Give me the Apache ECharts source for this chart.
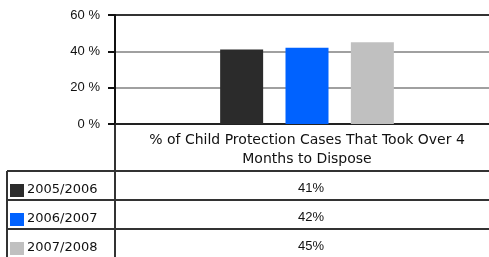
<!DOCTYPE html>
<html>
<head>
<meta charset="utf-8">
<script src="https://cdn.jsdelivr.net/npm/echarts@6/dist/echarts.min.js"></script>
<style>
  html, body { margin: 0; padding: 0; background: #fff; overflow: hidden; }
  #main { width: 499px; height: 257px; }
</style>
</head>
<body>
<div id="main"></div>
<script>
// data
var categories = ['% of Child Protection Cases That Took Over 4 Months to Dispose'];
var seriesNames = ['2005/2006', '2006/2007', '2007/2008'];
var values2005 = [41];
var values2006 = [42];
var values2007 = [45];
var seriesColors = ['#2b2b2b', '#0062ff', '#c0c0c0'];
var yTicks = [0, 20, 40, 60];

var allValues = [values2005, values2006, values2007];
var fontFam = '"Liberation Sans", Arial, sans-serif';
var wideFam = '"DejaVu Sans", sans-serif';

var myChart = echarts.init(document.getElementById('main'));

// data table under the axis (legend keys + values)
var tableTop = 171, rowH = 29, tableLeft = 7, colX = 115, tableRight = 499;
var graphics = [];
var lineStyle = { stroke: '#333', lineWidth: 2 };
graphics.push({ type: 'line', shape: { x1: tableLeft, y1: tableTop, x2: tableRight, y2: tableTop }, style: lineStyle });
graphics.push({ type: 'line', shape: { x1: tableLeft, y1: tableTop, x2: tableLeft, y2: 257 }, style: lineStyle });
graphics.push({ type: 'line', shape: { x1: colX, y1: 124, x2: colX, y2: 257 }, style: lineStyle });
for (var i = 0; i < seriesNames.length; i++) {
  var y0 = tableTop + i * rowH;
  if (i > 0) {
    graphics.push({ type: 'line', shape: { x1: tableLeft, y1: y0, x2: tableRight, y2: y0 }, style: lineStyle });
  }
  graphics.push({ type: 'rect', shape: { x: 10, y: y0 + 13, width: 14, height: 13 }, style: { fill: seriesColors[i] } });
  graphics.push({
    type: 'text', x: 27, y: y0 + 19,
    style: { text: seriesNames[i], fill: '#111', font: '13px ' + wideFam, textVerticalAlign: 'middle' }
  });
  graphics.push({
    type: 'text', x: 311, y: y0 + 17,
    style: { text: allValues[i][0] + '%', fill: '#111', font: '13px ' + fontFam, textAlign: 'center', textVerticalAlign: 'middle' }
  });
}

var series = [];
for (var s = 0; s < seriesNames.length; s++) {
  series.push({
    name: seriesNames[s],
    type: 'bar',
    data: allValues[s],
    barWidth: 43,
    barGap: '52%',
    itemStyle: { color: seriesColors[s] },
    silent: true
  });
}

var option = {
  animation: false,
  grid: { left: 115, right: 0, top: 15, bottom: 133, containLabel: false },
  xAxis: {
    type: 'category',
    data: categories,
    axisLine: { lineStyle: { color: '#222', width: 2 } },
    axisTick: { show: false },
    axisLabel: {
      margin: 7,
      color: '#111',
      fontSize: 14,
      lineHeight: 19,
      fontFamily: wideFam,
      formatter: function (v) { return v.replace(' Months', '\nMonths'); }
    }
  },
  yAxis: {
    type: 'value',
    min: yTicks[0],
    max: yTicks[yTicks.length - 1],
    interval: 20,
    axisLine: { show: true, lineStyle: { color: '#111', width: 2 } },
    axisTick: { show: true, length: 7, lineStyle: { color: '#111', width: 2 } },
    axisLabel: {
      margin: 15,
      color: '#111',
      fontSize: 13,
      fontFamily: fontFam,
      formatter: '{value} %'
    },
    splitLine: { show: true, lineStyle: { color: ['#333', '#a0a0a0', '#a0a0a0', '#333'], width: 2 } }
  },
  series: series,
  graphic: graphics
};

myChart.setOption(option);
</script>
</body>
</html>
